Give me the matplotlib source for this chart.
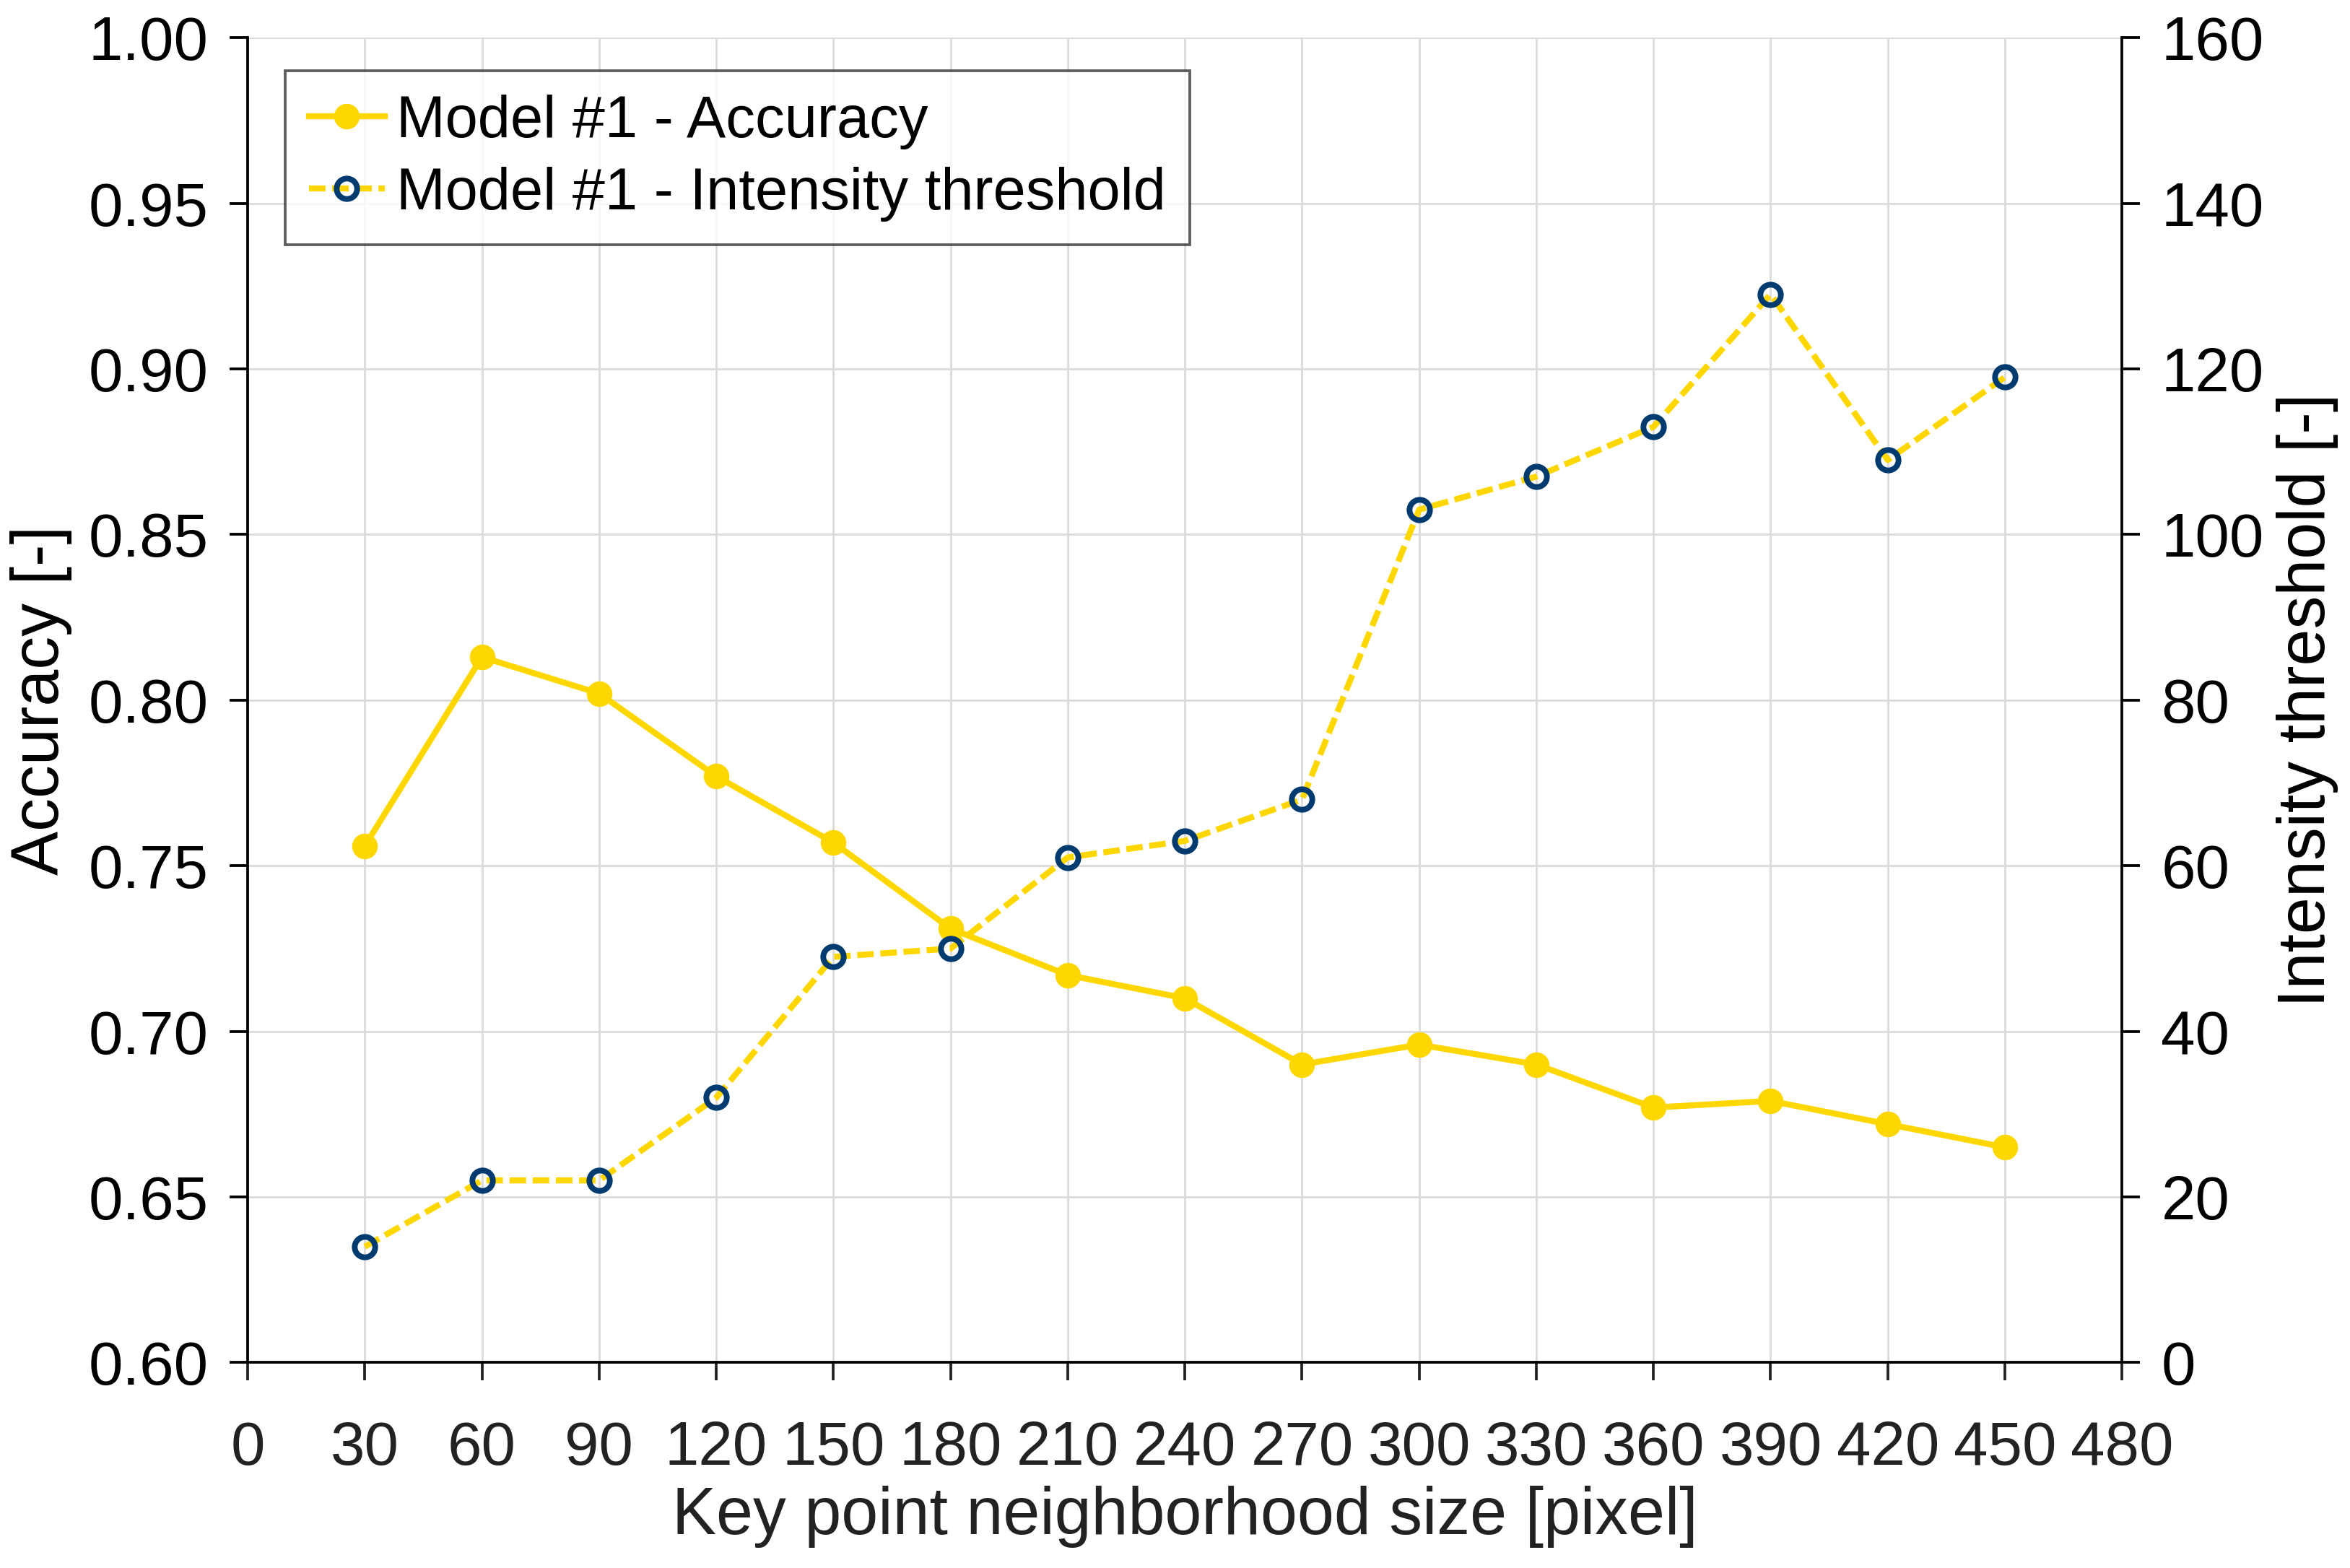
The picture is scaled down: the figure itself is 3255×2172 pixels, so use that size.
import matplotlib
matplotlib.use("Agg")
import matplotlib.pyplot as plt
import numpy as np

plt.rcParams['font.family'] = ['Liberation Sans', 'DejaVu Sans']

# neighbourhood size [pixel]
sizes = [30, 60, 90, 120, 150, 180, 210, 240, 270, 300, 330, 360, 390, 420, 450]
# Model #1 accuracy
accuracy = [0.756, 0.813, 0.802, 0.777, 0.757, 0.731, 0.717, 0.710, 0.690,
            0.696, 0.690, 0.677, 0.679, 0.672, 0.665]
# Model #1 intensity threshold
threshold = [14, 22, 22, 32, 49, 50, 61, 63, 68, 103, 107, 113, 129, 109, 119]

x_ticks = np.arange(0, 481, 30)
acc_ticks = np.arange(0.60, 1.001, 0.05)
thr_ticks = np.arange(0, 161, 20)

YELLOW = '#FFD700'
NAVY = '#003B6F'

fig = plt.figure(figsize=(10.85, 7.24), dpi=300)
ax = fig.add_axes([0.1054, 0.131, 0.7976, 0.845])
ax2 = ax.twinx()

l1, = ax.plot(sizes, accuracy, '-o', color=YELLOW, lw=2.0, ms=7.5,
              mfc=YELLOW, mec=YELLOW, label='Model #1 - Accuracy')
l2, = ax2.plot(sizes, threshold, '--o', color=YELLOW, lw=2.0, ms=6.8,
               mfc='none', mec=NAVY, mew=1.9, dashes=(2.75, 1.1),
               label='Model #1 - Intensity threshold')

ax.set_xlim(0, 480)
ax.set_ylim(0.60, 1.00)
ax2.set_ylim(0, 160)
ax.set_xticks(x_ticks)
ax.set_yticks(acc_ticks)
ax.set_yticklabels([f'{v:.2f}' for v in acc_ticks])
ax2.set_yticks(thr_ticks)

ax.grid(True, color='#DCDCDC', lw=0.7)
ax.set_axisbelow(True)

for a in (ax, ax2):
    a.spines['top'].set_visible(False)
    for s in a.spines.values():
        s.set_linewidth(0.9)
    a.tick_params(direction='out', length=6, width=0.9, labelsize=20.5, pad=7)
ax.spines['right'].set_visible(False)
ax2.spines['left'].set_visible(False)
ax2.spines['bottom'].set_visible(False)
ax.tick_params(axis='x', pad=13, colors='#222222', labelcolor='#222222')

ax.set_xlabel('Key point neighborhood size [pixel]', fontsize=22, color='#222222')
ax.set_ylabel('Accuracy [-]', fontsize=22)
ax2.set_ylabel('Intensity threshold [-]', fontsize=22)
for lab in (ax.xaxis.label, ax.yaxis.label, ax2.yaxis.label):
    lab.set_va('center')
ax.xaxis.set_label_coords(0.5, -0.1165)
ax.yaxis.set_label_coords(-0.110, 0.5)
ax2.yaxis.set_label_coords(1.099, 0.5)

leg = ax.legend(handles=[l1, l2], loc='upper left', bbox_to_anchor=(0.02, 0.975),
                fontsize=19.5, frameon=True, fancybox=False, borderaxespad=0,
                handlelength=1.3, handletextpad=0.2, borderpad=0.4,
                labelspacing=0.3)
leg.get_frame().set_edgecolor('#333333')
leg.get_frame().set_linewidth(0.9)
leg.set_zorder(5)

fig.savefig('out.png', dpi=300)
